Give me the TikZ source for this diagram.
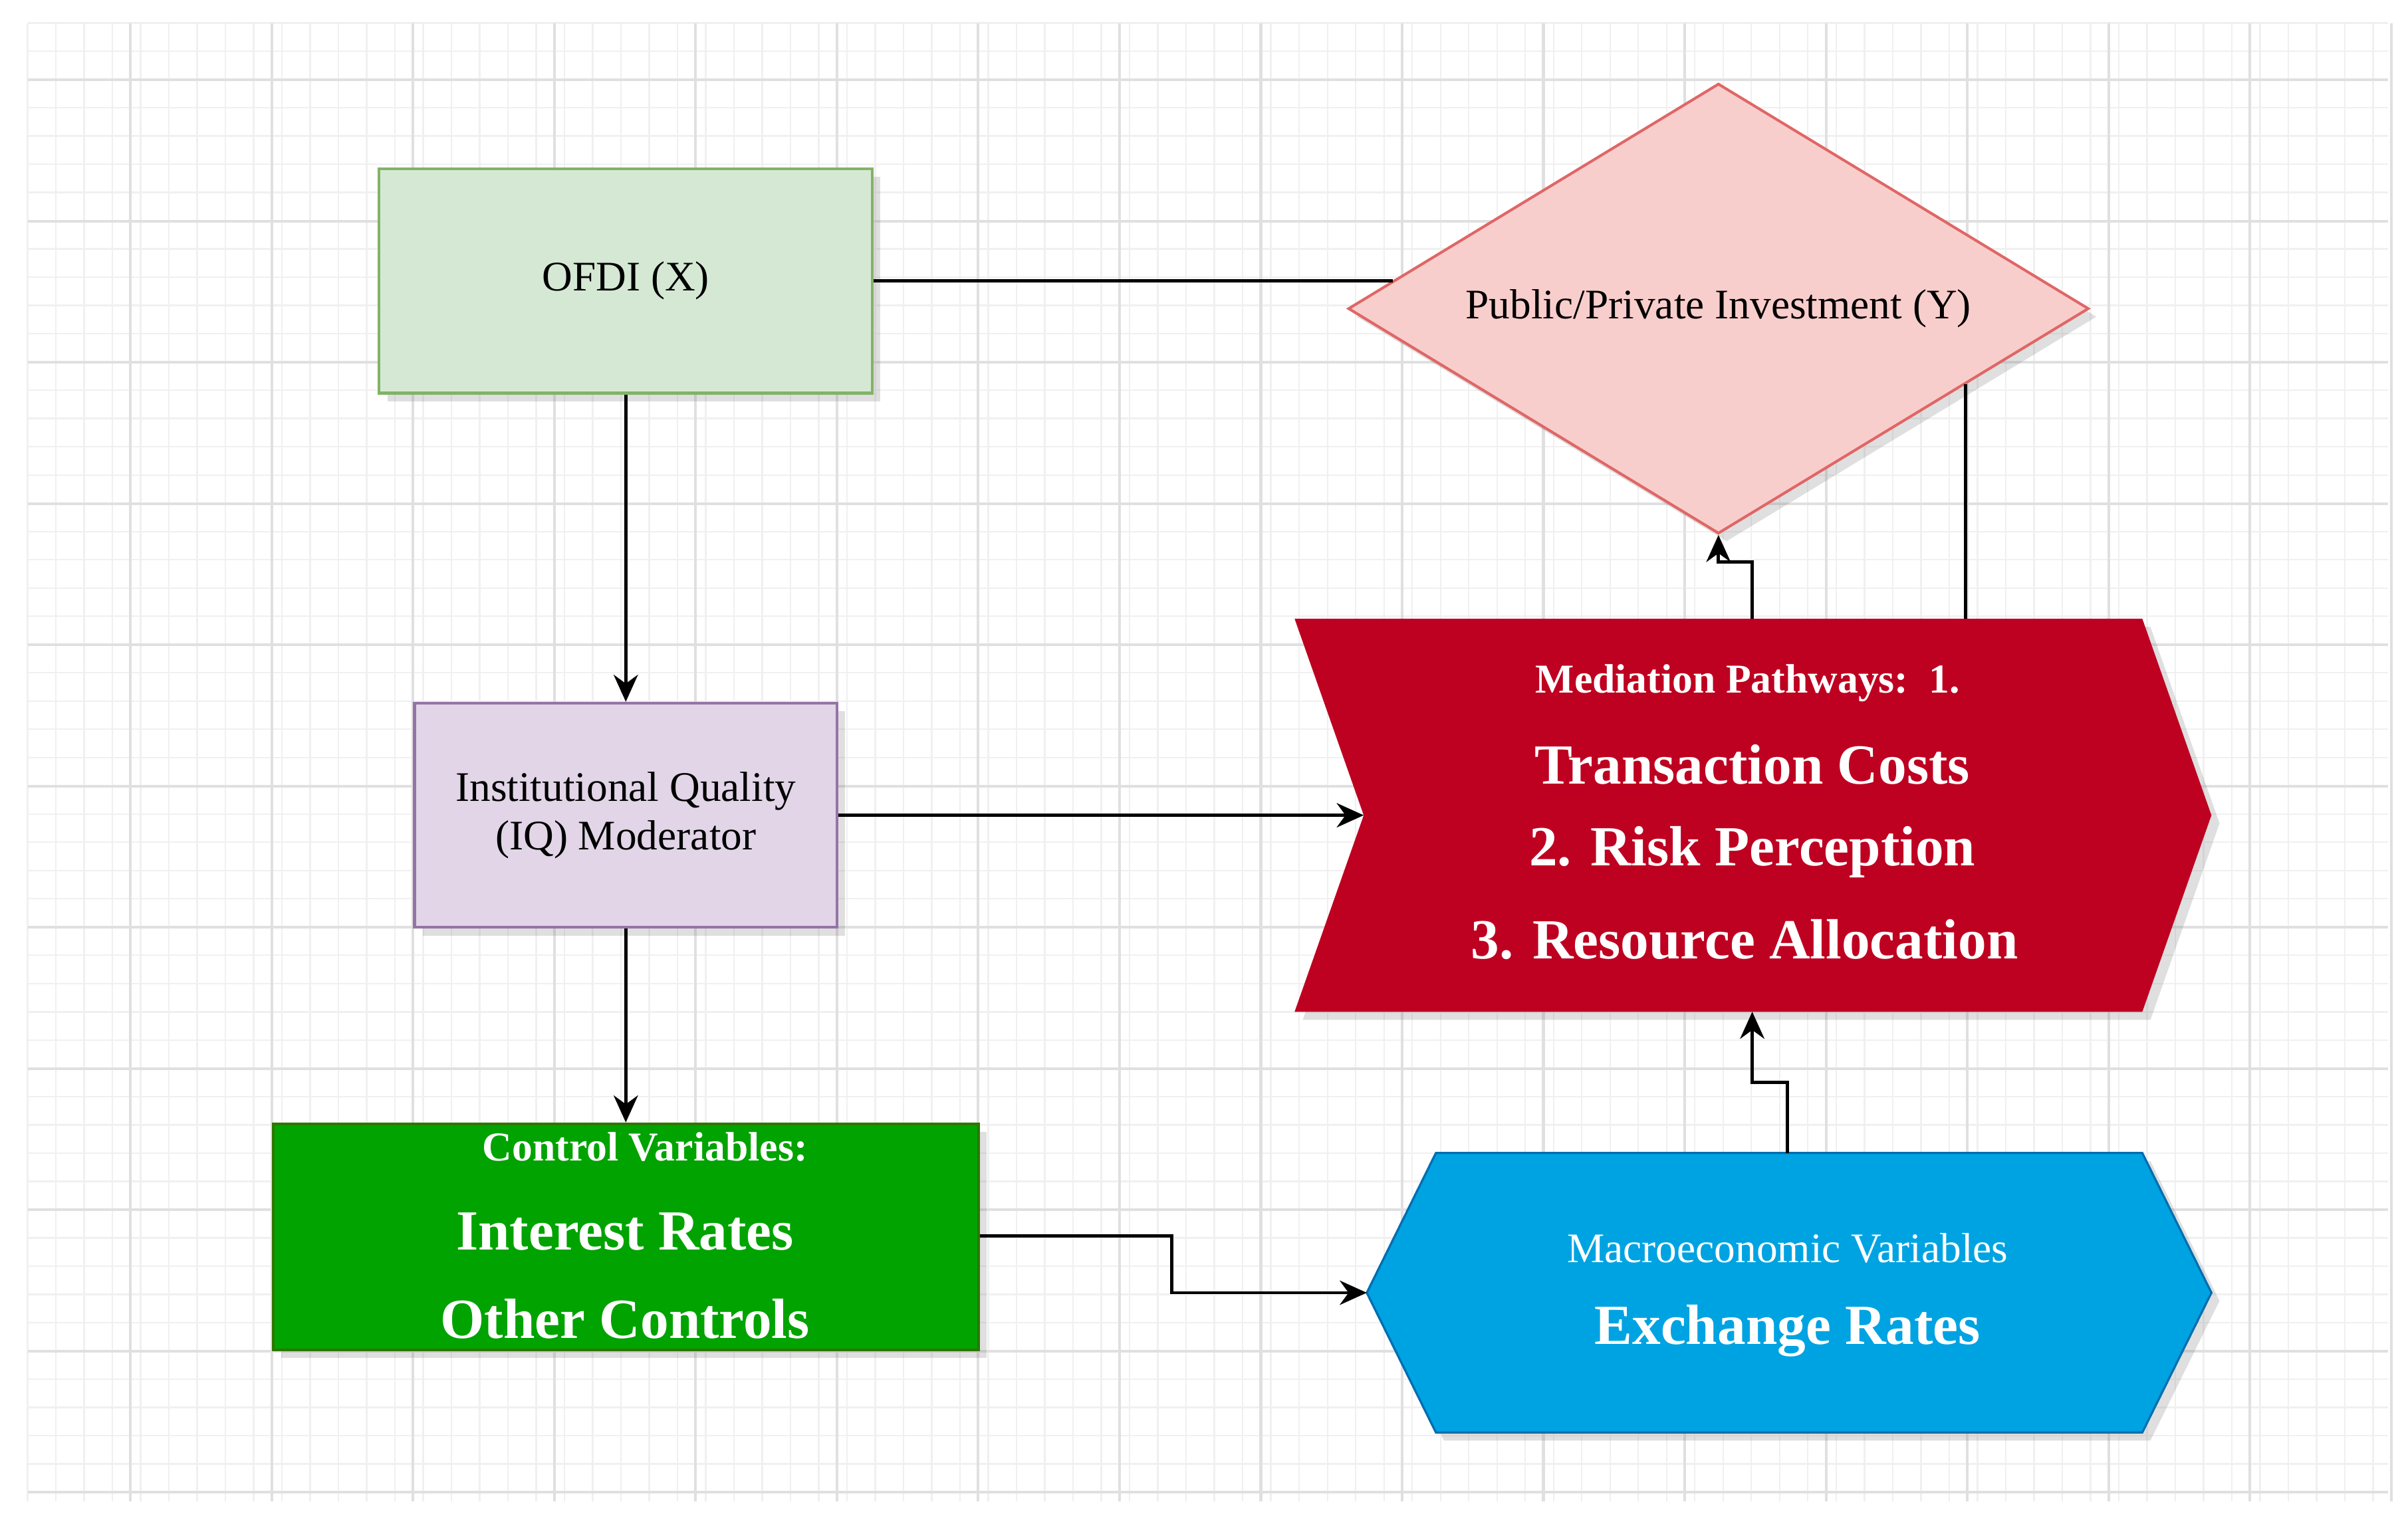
\documentclass[tikz,border=0pt]{standalone}
\usepackage{fontspec}
\setmainfont{Liberation Serif}
\usepackage{tikz}
\usetikzlibrary{calc,positioning,shapes.geometric,shadows,arrows.meta}

\definecolor{ofdiFill}{HTML}{D5E8D4}
\definecolor{ofdiLine}{HTML}{82B366}
\definecolor{iqFill}{HTML}{E1D5E7}
\definecolor{iqLine}{HTML}{9673A6}
\definecolor{yFill}{HTML}{F8CECC}
\definecolor{yLine}{HTML}{E06666}
\definecolor{ctrlFill}{HTML}{00A300}
\definecolor{ctrlLine}{HTML}{2D7600}
\definecolor{medFill}{HTML}{BE0021}
\definecolor{macFill}{HTML}{00A3E2}
\definecolor{macLine}{HTML}{006EAF}

\tikzset{
	box/.style={draw, line width=0.5pt, inner sep=0pt,
		drop shadow={opacity=0.25, shadow xshift=1.5pt, shadow yshift=-1.5pt}},
	small/.style={font=\fontsize{7.8}{9}\selectfont},
	big/.style={text=white, font=\bfseries\fontsize{10.5}{12}\selectfont},
	title/.style={text=white, font=\bfseries\fontsize{7.6}{9}\selectfont},
	link/.style={draw=black, line width=0.6pt},
	arrow/.style={link, -{Stealth[length=5pt,width=4.5pt]}}
}

\begin{document}
\begin{tikzpicture}[x=0.01cm, y=-0.01cm]
		\useasboundingbox (0,0) rectangle (1568,999);
		\fill[white] (0,0) rectangle (1568,999);
		% grid
		\foreach \gx in {0,...,83}{
			\draw[black!6, line width=0.3pt] ({18+\gx*18.4},15) -- ({18+\gx*18.4},978);
		}
		\foreach \gy in {0,...,52}{
			\draw[black!6, line width=0.3pt] (18,{15+\gy*18.4}) -- (1555,{15+\gy*18.4});
		}
		\foreach \gx in {0,...,16}{
			\draw[black!12, line width=0.5pt] ({85+\gx*92},15) -- ({85+\gx*92},978);
		}
		\foreach \gy in {0,...,10}{
			\draw[black!12, line width=0.5pt] (18,{52+\gy*92}) -- (1555,{52+\gy*92});
		}

		% boxes
		\node[box, fill=ofdiFill, draw=ofdiLine, minimum width=3.21cm, minimum height=1.46cm, small]
			(ofdi) at (407.5,183) {OFDI (X)};
		\node[box, fill=iqFill, draw=iqLine, minimum width=2.75cm, minimum height=1.46cm,
			small, align=center] (iq) at (407.5,531) {Institutional Quality\\(IQ) Moderator};
		\node[box, fill=ctrlFill, draw=ctrlLine, minimum width=4.59cm, minimum height=1.47cm]
			(ctrl) at (407.5,805.5) {};
		\node[box, diamond, fill=yFill, draw=yLine, aspect=1.645, minimum width=4.82cm,
			minimum height=2.93cm, small] (inv) at (1119,201) {Public/Private Investment (Y)};

		% mediation chevron
		\coordinate (med nw) at (843,403);
		\coordinate (med w) at (888,531);
		\coordinate (med top) at (1141,403);
		\coordinate (med bot) at (1141,659);
		\coordinate (med up) at (1280,403);
		\fill[medFill, drop shadow={opacity=0.25, shadow xshift=1.5pt, shadow yshift=-1.5pt}]
			(med nw) -- (1395,403) -- (1440,531) -- (1395,659) -- (843,659) -- (med w) -- cycle;
		% macro hexagon
		\coordinate (mac w) at (890,842);
		\coordinate (mac top) at (1164,751);
		\filldraw[fill=macFill, draw=macLine, line width=0.4pt,
			drop shadow={opacity=0.25, shadow xshift=1.5pt, shadow yshift=-1.5pt}]
			(935,751) -- (1395,751) -- (1440,842) -- (1395,933) -- (935,933) -- (mac w) -- cycle;

		% texts
		\node[title] (med0) at (1138,445) {Mediation Pathways:\ \ 1.};
		\node[big] (med1) at (1141,498) {Transaction Costs};
		\node[big] (med2) at (1141,555) {2. Risk Perception};
		\node[big] (med3) at (1136,612) {3. Resource Allocation};
		\node[title] (ctrl0) at (420,747) {Control Variables:};
		\node[big] (ctrl1) at (407,802) {Interest Rates};
		\node[big] (ctrl2) at (407,859) {Other Controls};
		\node[title, font=\fontsize{7.8}{9}\selectfont] (mac0) at (1164,813) {Macroeconomic Variables};
		\node[big] (mac1) at (1164,867) {Exchange Rates};

		% connectors
		\draw[link] (ofdi.east) -- ($(inv.west)+(30,-18)$);
		\draw[arrow] (ofdi.south) -- (iq.north);
		\draw[arrow] (iq.south) -- (iq.south |- ctrl.north);
		\draw[arrow] (iq.east) -- (med w);
		\draw[arrow] (ctrl.east |- 0,805) -- (763,805) -- (763,842) -- (mac w);
		\draw[arrow] (mac top) -- (1164,705) -- (1141,705) -- (med bot);
		\draw[arrow] (med top) -- (1141,366) -- (1119,366) -- (inv.south);
		\draw[link] (med up) -- (1280,250);
\end{tikzpicture}
\end{document}
